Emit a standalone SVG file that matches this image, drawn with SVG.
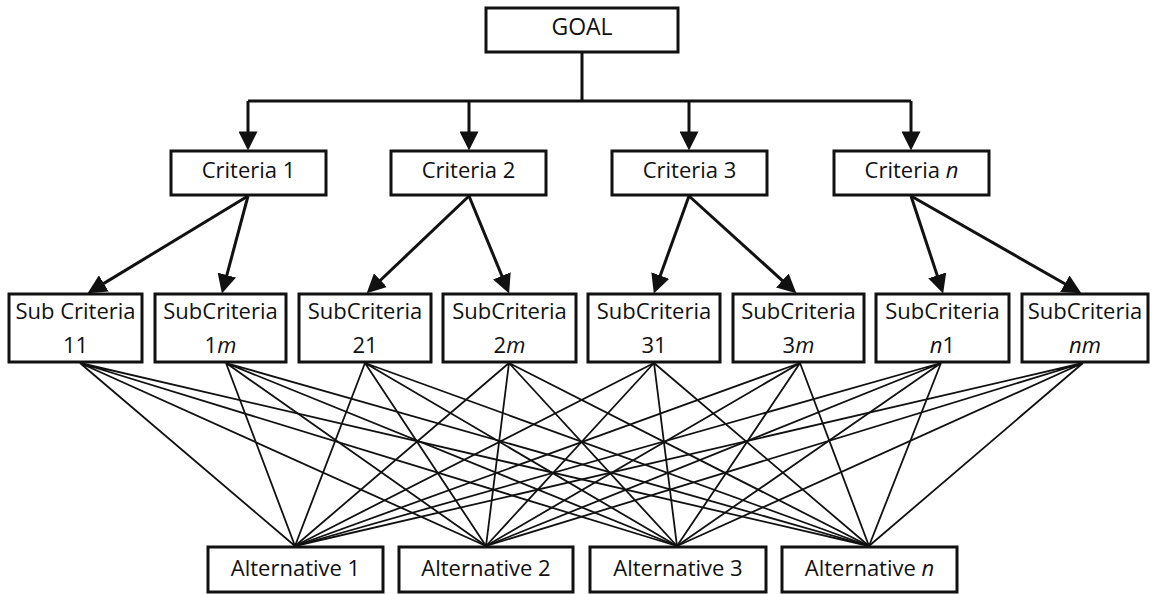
<svg xmlns="http://www.w3.org/2000/svg" width="1153" height="594" viewBox="0 0 1153 594">
<style>
.box{fill:#fff;stroke:#111;stroke-width:3}
.t{font-family:"Open Sans","Noto Sans",sans-serif;font-size:22px;fill:#111;text-anchor:middle}
.i{font-style:italic}
.c{fill:none;stroke:#111;stroke-width:3}
.w{fill:none;stroke:#111;stroke-width:1.8}
</style>
<defs>
<marker id="ah" markerUnits="userSpaceOnUse" viewBox="0 0 18 18" markerWidth="19" markerHeight="19" refX="10" refY="9" orient="auto">
<path d="M0,0 L18,9 L0,18 Z" fill="#111"/>
</marker>
</defs>
<rect width="1153" height="594" fill="#fff"/>
<g id="connectors">
<g id="thin">
<path class="w" d="M80,363 L295,546 M80,363 L486,546 M80,363 L677,546 M80,363 L869,546"/>
<path class="w" d="M226,363 L295,546 M226,363 L486,546 M226,363 L677,546 M226,363 L869,546"/>
<path class="w" d="M365,363 L295,546 M365,363 L486,546 M365,363 L677,546 M365,363 L869,546"/>
<path class="w" d="M509,363 L295,546 M509,363 L486,546 M509,363 L677,546 M509,363 L869,546"/>
<path class="w" d="M654,363 L295,546 M654,363 L486,546 M654,363 L677,546 M654,363 L869,546"/>
<path class="w" d="M800,363 L295,546 M800,363 L486,546 M800,363 L677,546 M800,363 L869,546"/>
<path class="w" d="M941,363 L295,546 M941,363 L486,546 M941,363 L677,546 M941,363 L869,546"/>
<path class="w" d="M1083,363 L295,546 M1083,363 L486,546 M1083,363 L677,546 M1083,363 L869,546"/>
</g>
<path class="c" d="M582,52 V101 M248,101 H911"/>
<line class="c" x1="248" y1="101" x2="248" y2="142" marker-end="url(#ah)"/>
<line class="c" x1="469" y1="101" x2="469" y2="142" marker-end="url(#ah)"/>
<line class="c" x1="689" y1="101" x2="689" y2="142" marker-end="url(#ah)"/>
<line class="c" x1="911" y1="101" x2="911" y2="142" marker-end="url(#ah)"/>
<line class="c" x1="248" y1="196" x2="94.8" y2="288.9" marker-end="url(#ah)"/>
<line class="c" x1="248" y1="196" x2="224.1" y2="285.3" marker-end="url(#ah)"/>
<line class="c" x1="469" y1="196" x2="372.8" y2="287.5" marker-end="url(#ah)"/>
<line class="c" x1="469" y1="196" x2="505.9" y2="285.6" marker-end="url(#ah)"/>
<line class="c" x1="689" y1="196" x2="656.7" y2="285.5" marker-end="url(#ah)"/>
<line class="c" x1="689" y1="196" x2="790.1" y2="287.6" marker-end="url(#ah)"/>
<line class="c" x1="911" y1="196" x2="940.5" y2="285.4" marker-end="url(#ah)"/>
<line class="c" x1="911" y1="196" x2="1074" y2="289" marker-end="url(#ah)"/>
</g>
<g id="goal"><rect class="box" x="486" y="8" width="192" height="44"/><text class="t" x="582" y="35" style="font-size:23px">GOAL</text></g>
<g id="criteria1"><rect class="box" x="171" y="151" width="155" height="44"/><text class="t" x="248.5" y="178">Criteria 1</text></g>
<g id="criteria2"><rect class="box" x="391" y="151" width="155" height="44"/><text class="t" x="468.5" y="178">Criteria 2</text></g>
<g id="criteria3"><rect class="box" x="612" y="151" width="155" height="44"/><text class="t" x="689.5" y="178">Criteria 3</text></g>
<g id="criterian"><rect class="box" x="834" y="151" width="155" height="44"/><text class="t" x="911.5" y="178">Criteria <tspan class="i">n</tspan></text></g>
<g id="sub11"><rect class="box" x="9" y="294" width="133" height="68"/><text class="t" x="75.5" y="319">Sub Criteria</text><text class="t" x="75.5" y="353">11</text></g>
<g id="sub1m"><rect class="box" x="155" y="294" width="131" height="68"/><text class="t" x="220.5" y="319">SubCriteria</text><text class="t" x="220.5" y="353">1<tspan class="i">m</tspan></text></g>
<g id="sub21"><rect class="box" x="299" y="294" width="132" height="68"/><text class="t" x="365" y="319">SubCriteria</text><text class="t" x="365" y="353">21</text></g>
<g id="sub2m"><rect class="box" x="443" y="294" width="133" height="68"/><text class="t" x="509.5" y="319">SubCriteria</text><text class="t" x="509.5" y="353">2<tspan class="i">m</tspan></text></g>
<g id="sub31"><rect class="box" x="588" y="294" width="132" height="68"/><text class="t" x="654" y="319">SubCriteria</text><text class="t" x="654" y="353">31</text></g>
<g id="sub3m"><rect class="box" x="733" y="294" width="131" height="68"/><text class="t" x="798.5" y="319">SubCriteria</text><text class="t" x="798.5" y="353">3<tspan class="i">m</tspan></text></g>
<g id="subn1"><rect class="box" x="876" y="294" width="133" height="68"/><text class="t" x="942.5" y="319">SubCriteria</text><text class="t" x="942.5" y="353"><tspan class="i">n</tspan>1</text></g>
<g id="subnm"><rect class="box" x="1022" y="294" width="126" height="68"/><text class="t" x="1085" y="319">SubCriteria</text><text class="t" x="1085" y="353"><tspan class="i">nm</tspan></text></g>
<g id="alt1"><rect class="box" x="208" y="547" width="175" height="45"/><text class="t" x="295.5" y="576">Alternative 1</text></g>
<g id="alt2"><rect class="box" x="399" y="547" width="174" height="45"/><text class="t" x="486" y="576">Alternative 2</text></g>
<g id="alt3"><rect class="box" x="590" y="547" width="176" height="45"/><text class="t" x="678" y="576">Alternative 3</text></g>
<g id="altn"><rect class="box" x="782" y="547" width="175" height="45"/><text class="t" x="869.5" y="576">Alternative <tspan class="i">n</tspan></text></g>
</svg>
